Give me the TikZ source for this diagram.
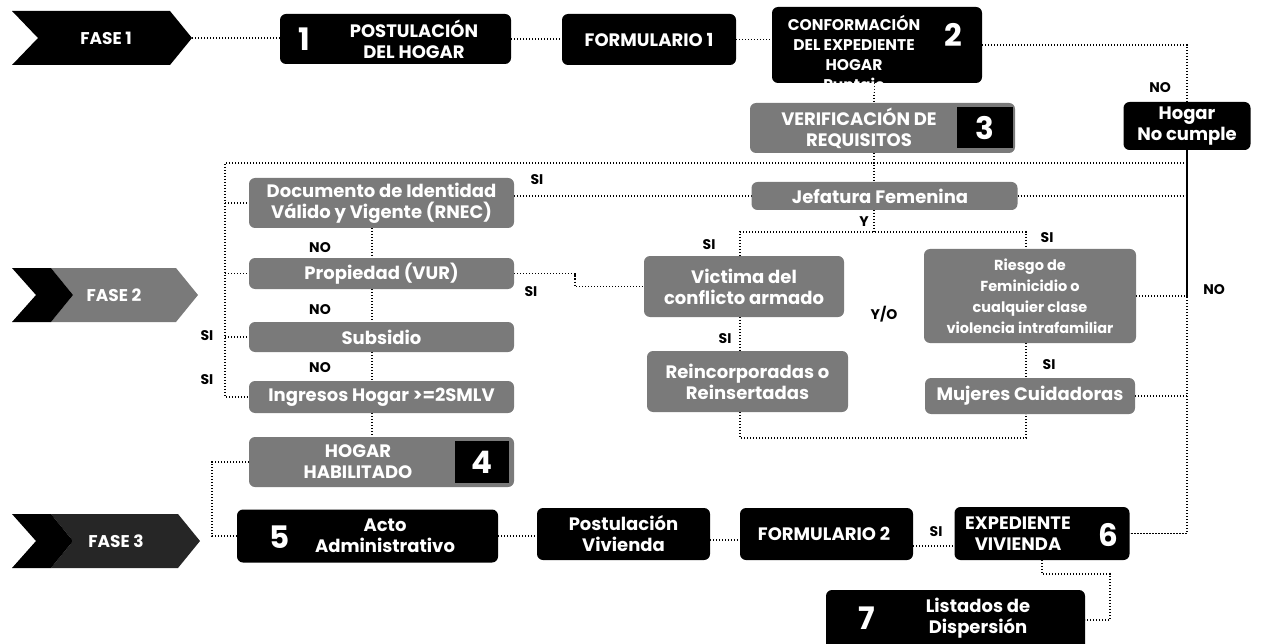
\documentclass[tikz,border=0pt]{standalone}
\usepackage{fontspec}
\setmainfont{Poppins}
\usetikzlibrary{calc}
\definecolor{boxgray}{HTML}{7A7A7A}
\definecolor{darkph}{HTML}{262626}
\pgfdeclarelayer{bg}
\pgfsetlayers{bg,main}
\tikzset{
  base/.style={inner sep=0pt, outer sep=0pt, rounded corners=6pt},
  blk/.style={base, fill=black},
  gry/.style={base, fill=boxgray},
  sq/.style={fill=black, inner sep=0pt, outer sep=0pt},
  wtxt/.style={text=white, font=\bfseries\fontsize{18}{21}\selectfont, align=center, inner sep=0pt},
  num/.style={text=white, font=\bfseries\fontsize{31}{31}\selectfont, inner sep=0pt},
  lbl/.style={text=black, font=\bfseries\fontsize{14}{14}\selectfont, inner sep=0pt},
  conn/.style={line width=1.3pt, dash pattern=on 1.3pt off 1.7pt},
  solidc/.style={line width=1.6pt},
}
\begin{document}
\begin{tikzpicture}[x=1pt,y=-1pt]
\useasboundingbox (0,0) rectangle (1265,644);
\clip (0,0) rectangle (1265,644);

% ---------- phase chevrons ----------
\fill[black] (12,11) -- (170,11) -- (192,38) -- (170,65) -- (12,65) -- (38,38) -- cycle;
\node[wtxt, font=\bfseries\fontsize{17}{20}\selectfont] (f1) at (106,38) {FASE 1};
\coordinate (f1tip) at (192,38);

\fill[boxgray] (51,268) -- (176,268) -- (198,295) -- (176,322) -- (51,322) -- (73,295) -- cycle;
\fill[black] (12,268) -- (51,268) -- (73,295) -- (51,322) -- (12,322) -- (36,295) -- cycle;
\node[wtxt, font=\bfseries\fontsize{17}{20}\selectfont] (f2) at (114,295) {FASE 2};

\fill[darkph] (51,514) -- (178,514) -- (200,541) -- (178,568) -- (51,568) -- (73,541) -- cycle;
\fill[black] (12,514) -- (51,514) -- (73,541) -- (51,568) -- (12,568) -- (36,541) -- cycle;
\node[wtxt, font=\bfseries\fontsize{17}{20}\selectfont] (f3) at (116,541) {FASE 3};

% ---------- row 1 ----------
\node[blk, minimum width=231pt, minimum height=50pt] (b1) at (395.5,39) {};
\node[num] (b1n) at (304,39) {1};
\node[wtxt] (b1t) at (414,39) {POSTULACIÓN\\DEL HOGAR};

\node[blk, minimum width=174pt, minimum height=51pt] (fo1) at (649,39.5) {};
\node[wtxt] (fo1t) at (649,39.5) {FORMULARIO 1};

\node[blk, minimum width=210pt, minimum height=76pt] (b2) at (877,45) {};
\node[num] (b2n) at (953,35) {2};
\node[wtxt, font=\bfseries\fontsize{15.5}{20}\selectfont] (b2t) at (854,55) {CONFORMACIÓN\\DEL EXPEDIENTE\\HOGAR\\Puntaje};

\node[blk, minimum width=127pt, minimum height=48pt] (hn) at (1187,126) {};
\node[wtxt] (hnt) at (1187,126) {Hogar\\No cumple};

\node[gry, minimum width=265pt, minimum height=50pt] (ver) at (882.5,128) {};
\node[sq, minimum width=56pt, minimum height=41pt] (ver3) at (985,128) {};
\node[num] (vern) at (985,128) {3};
\node[wtxt] (vert) at (859,128) {VERIFICACIÓN DE\\REQUISITOS};

% ---------- left column ----------
\node[gry, minimum width=265pt, minimum height=50pt] (doc) at (381.5,203) {};
\node[wtxt] (doct) at (381.5,203) {Documento de Identidad\\Válido y Vigente (RNEC)};
\node[gry, minimum width=265pt, minimum height=31pt] (prop) at (381.5,273.5) {};
\node[wtxt] (propt) at (381.5,273.5) {Propiedad (VUR)};
\node[gry, minimum width=265pt, minimum height=30pt] (sub) at (381.5,337) {};
\node[wtxt] (subt) at (381.5,337) {Subsidio};
\node[gry, minimum width=265pt, minimum height=32pt] (ing) at (381.5,397) {};
\node[wtxt] (ingt) at (381.5,397) {Ingresos Hogar >=2SMLV};

\node[gry, minimum width=265pt, minimum height=50pt] (hh) at (381.5,462) {};
\node[sq, minimum width=54pt, minimum height=42pt] (hh4) at (482,462) {};
\node[num] (hhn) at (482,462) {4};
\node[wtxt] (hht) at (358,462) {HOGAR\\HABILITADO};

% ---------- right part ----------
\node[gry, minimum width=266pt, minimum height=28pt] (jef) at (884.5,196) {};
\node[wtxt] (jeft) at (880,196) {Jefatura Femenina};

\node[gry, minimum width=200pt, minimum height=61pt] (vic) at (744,286.5) {};
\node[wtxt] (vict) at (744,286.5) {Victima del\\conflicto armado};
\node[gry, minimum width=201pt, minimum height=61pt] (rei) at (747.5,381.5) {};
\node[wtxt] (reit) at (747.5,381.5) {Reincorporadas o\\Reinsertadas};

\node[gry, minimum width=212pt, minimum height=94pt] (ris) at (1030,296) {};
\node[wtxt, font=\bfseries\fontsize{14.5}{21}\selectfont] (rist) at (1030,296) {Riesgo de\\Feminicidio o\\cualquier clase\\violencia intrafamiliar};
\node[gry, minimum width=210pt, minimum height=36pt] (muj) at (1030,396) {};
\node[wtxt] (mujt) at (1030,396) {Mujeres Cuidadoras};

% ---------- row 3 ----------
\node[blk, minimum width=261pt, minimum height=53pt] (b5) at (367.5,536) {};
\node[num] (b5n) at (280,537) {5};
\node[wtxt] (b5t) at (385,536) {Acto\\Administrativo};

\node[blk, minimum width=173pt, minimum height=52pt] (pv) at (623.5,534) {};
\node[wtxt] (pvt) at (623.5,534) {Postulación\\Vivienda};

\node[blk, minimum width=173pt, minimum height=52pt] (fo2) at (826.5,534) {};
\node[wtxt] (fo2t) at (824,534) {FORMULARIO 2};

\node[blk, minimum width=175pt, minimum height=53pt] (b6) at (1042,533.5) {};
\node[num] (b6n) at (1108,535) {6};
\node[wtxt] (b6t) at (1018,533.5) {EXPEDIENTE\\VIVIENDA};

\node[blk, minimum width=259pt, minimum height=60pt] (b7) at (955.5,620) {};
\node[num] (b7n) at (867,618) {7};
\node[wtxt] (b7t) at (978,618) {Listados de\\Dispersión};

% ---------- labels ----------
\node[lbl] (l1) at (1160,88) {NO};
\node[lbl] (l2) at (320,248) {NO};
\node[lbl] (l3) at (320,310) {NO};
\node[lbl] (l4) at (320,368) {NO};
\node[lbl] (l5) at (207,336) {SI};
\node[lbl] (l6) at (207,380) {SI};
\node[lbl] (l7) at (537,180) {SI};
\node[lbl] (l8) at (531,292) {SI};
\node[lbl] (l9) at (864,222) {Y};
\node[lbl] (l10) at (709,245) {SI};
\node[lbl] (l11) at (1047,238) {SI};
\node[lbl] (l12) at (725,339) {SI};
\node[lbl] (l13) at (884,314) {Y/O};
\node[lbl] (l14) at (1049,365) {SI};
\node[lbl] (l15) at (1214,290) {NO};
\node[lbl] (l16) at (936,532) {SI};

% ---------- connectors ----------
\begin{pgfonlayer}{bg}
\draw[conn] (f1tip) -- (b1.west |- f1tip);
\draw[conn] (b1.east) -- (fo1.west |- b1.east);
\draw[conn] (fo1.east) -- (b2.west |- fo1.east);
\coordinate (c2) at (1187,45);
\draw[conn] (b2.east |- c2) -- (c2) -- (hn.north);

\coordinate (vx) at (874,163);
\draw[conn] (b2.south -| vx) -- (ver.north -| vx);
\draw[conn] (ver.south -| vx) -- (vx) -- (jef.north -| vx);
\coordinate (yj) at (874,232);
\draw[conn] (jef.south -| vx) -- (yj);

\coordinate (L0) at (225,163);
\coordinate (R0) at (1187,163);
\draw[conn] (R0) -- (L0) -- (L0 |- ing.west) -- (ing.west);
\draw[conn] (L0 |- doc.west) -- (doc.west);
\draw[conn] (L0 |- prop.west) -- (prop.west);
\draw[conn] (L0 |- sub.west) -- (sub.west);

\coordinate (cx) at (372,0);
\draw[conn] (doc.south -| cx) -- (prop.north -| cx);
\draw[conn] (prop.south -| cx) -- (sub.north -| cx);
\draw[conn] (sub.south -| cx) -- (ing.north -| cx);
\draw[conn] (ing.south -| cx) -- (hh.north -| cx);

\draw[conn] (doc.east |- jef.west) -- (jef.west);
\coordinate (pj) at (575,273.5);
\draw[conn] (prop.east) -- (pj) -- (pj |- vic.west) -- (vic.west);

\draw[conn] (jef.east) -- (R0 |- jef.east);
\coordinate (yl) at (740,232);
\coordinate (yr) at (1026,232);
\draw[conn] (yl |- vic.north) -- (yl) -- (yr) -- (yr |- ris.north);
\draw[conn] (yl |- vic.south) -- (yl |- rei.north);
\coordinate (bl) at (740,438);
\coordinate (br) at (1026,438);
\draw[conn] (yl |- rei.south) -- (bl) -- (br) -- (br |- muj.south);
\draw[conn] (yr |- ris.south) -- (yr |- muj.north);
\draw[conn] (ris.east) -- (R0 |- ris.east);
\draw[conn] (muj.east) -- (R0 |- muj.east);

\coordinate (hv) at (1187,297);
\draw[solidc] (hn.south) -- (hv);
\draw[conn] (hv) -- (hv |- b6.east) -- (b6.east);

\coordinate (hx) at (212,0);
\draw[conn] (hh.west) -- (hx |- hh.west) -- (hx |- b5.west) -- (b5.west);
\draw[conn] (b5.east) -- (pv.west |- b5.east);
\draw[conn] ([yshift=-6pt]pv.east) -- ([yshift=-6pt]pv.east -| fo2.west);
\draw[conn] ([yshift=-12pt]fo2.east) -- ([yshift=-12pt]fo2.east -| b6.west);
\coordinate (s2) at (1110,574);
\draw[conn] (b6.south) -- (b6.south |- s2) -- (s2) -- (s2 |- b7.east) -- (b7.east);
\end{pgfonlayer}
\end{tikzpicture}
\end{document}
